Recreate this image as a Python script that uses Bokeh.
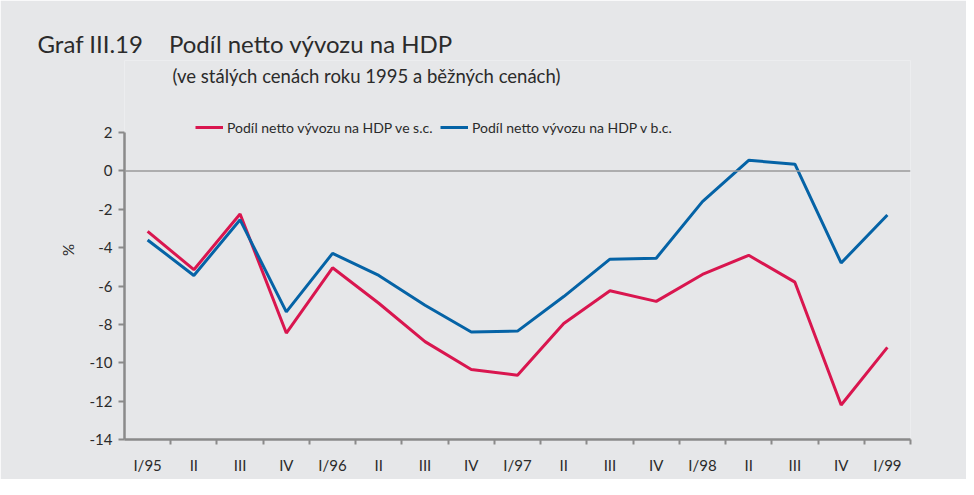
from bokeh.plotting import figure
from bokeh.models import Range1d, FixedTicker, Span, Title, Label, Legend, LegendItem, ColumnDataSource
from bokeh.embed import file_html
from bokeh.resources import INLINE

quarters = ["I/95", "II", "III", "IV", "I/96", "II", "III", "IV", "I/97",
            "II", "III", "IV", "I/98", "II", "III", "IV", "I/99"]
real_share = [-3.15, -5.15, -2.25, -8.45, -5.05, -6.9, -8.9, -10.35, -10.65,
              -7.95, -6.25, -6.8, -5.4, -4.4, -5.8, -12.2, -9.2]
nominal_share = [-3.6, -5.45, -2.55, -7.35, -4.3, -5.45, -7.0, -8.4, -8.35,
                 -6.55, -4.6, -4.55, -1.6, 0.55, 0.35, -4.8, -2.3]
y_ticks = [-14, -12, -10, -8, -6, -4, -2, 0, 2]
legend_labels = ["Podíl netto vývozu na HDP ve s.c.", "Podíl netto vývozu na HDP v b.c."]
title_text = "Graf III.19\u2003\u2004Podíl netto vývozu na HDP"
subtitle_text = "(ve stálých cenách roku 1995 a běžných cenách)"

FONT = "Lato"
BG = "#e6e7e9"
AX = "#8a8a8a"
TXT = "#2b2b2b"
RED = "#d9164f"
BLUE = "#0563a6"

# frame geometry (pixels)
W, H = 966, 479
LEFT, RIGHT_EDGE, TOP, BOTTOM_EDGE = 124, 910, 60, 439
y_lo, y_hi = -14, 2
px_per_unit = (BOTTOM_EDGE - 132) / (y_hi - y_lo)
y_top = y_lo + (BOTTOM_EDGE - TOP) / px_per_unit

n = len(quarters)
xs = [i + 0.5 for i in range(n)]
src = ColumnDataSource(dict(x=xs, real=real_share, nominal=nominal_share))

p = figure(width=W, height=H, output_backend="svg", toolbar_location=None,
           x_range=Range1d(0, n), y_range=Range1d(y_lo, y_top),
           min_border_left=LEFT, min_border_right=W - RIGHT_EDGE,
           min_border_top=TOP, min_border_bottom=H - BOTTOM_EDGE)
p.background_fill_color = BG
p.border_fill_color = BG
p.outline_line_color = None
p.grid.visible = False
p.title.visible = False

# zero line
p.add_layout(Span(location=0, dimension="width", line_color="#9a9a9a", line_width=1.5))

r1 = p.line("x", "real", source=src, line_color=RED, line_width=3)
r2 = p.line("x", "nominal", source=src, line_color=BLUE, line_width=3)

# x axis
xa = p.xaxis[0]
xa.ticker = FixedTicker(ticks=xs, minor_ticks=list(range(1, n + 1)))
xa.major_label_overrides = {x: q for x, q in zip(xs, quarters)}
xa.major_tick_out = 0
xa.major_tick_in = 0
xa.minor_tick_out = 5
xa.minor_tick_in = 0
xa.minor_tick_line_color = AX
xa.minor_tick_line_width = 2
xa.axis_line_color = AX
xa.axis_line_width = 2.5
xa.major_label_standoff = 11
xa.major_label_text_font = FONT
xa.major_label_text_font_size = "15px"
xa.major_label_text_color = TXT

# y axis
ya = p.yaxis[0]
ya.bounds = (y_lo, y_hi)
ya.ticker = FixedTicker(ticks=y_ticks)
ya.major_label_overrides = {t: str(t) for t in y_ticks}
ya.major_tick_out = 6
ya.major_tick_in = 0
ya.minor_tick_out = 0
ya.minor_tick_in = 0
ya.major_tick_line_color = AX
ya.major_tick_line_width = 2
ya.axis_line_color = AX
ya.axis_line_width = 2.5
ya.major_label_standoff = 6
ya.major_label_text_font = FONT
ya.major_label_text_font_size = "15px"
ya.major_label_text_color = TXT
ya.axis_label = "%"
ya.axis_label_text_font = FONT
ya.axis_label_text_font_size = "15px"
ya.axis_label_text_font_style = "normal"
ya.axis_label_text_color = TXT
ya.axis_label_standoff = 10

legend_style = dict(orientation="horizontal", background_fill_alpha=0, border_line_color=None,
                    padding=0, margin=0, spacing=0, label_standoff=4,
                    glyph_width=28, glyph_height=20, label_height=20,
                    label_text_font=FONT, label_text_font_size="14px", label_text_color=TXT)
p.add_layout(Legend(items=[LegendItem(label=legend_labels[0], renderers=[r1])],
                    location=(71, 302), **legend_style))
p.add_layout(Legend(items=[LegendItem(label=legend_labels[1], renderers=[r2])],
                    location=(316, 302), **legend_style))

p.add_layout(Label(x=48, y=BOTTOM_EDGE - 75, x_units="screen", y_units="screen",
                   text=subtitle_text, text_baseline="middle",
                   text_font=FONT, text_font_size="18.5px", text_color=TXT))
p.add_layout(Title(text=title_text, align="left", offset=-87, standoff=5,
                   text_font=FONT, text_font_size="24px", text_font_style="normal",
                   text_color=TXT), "above")

open("out.html", "w").write(file_html(p, INLINE))
